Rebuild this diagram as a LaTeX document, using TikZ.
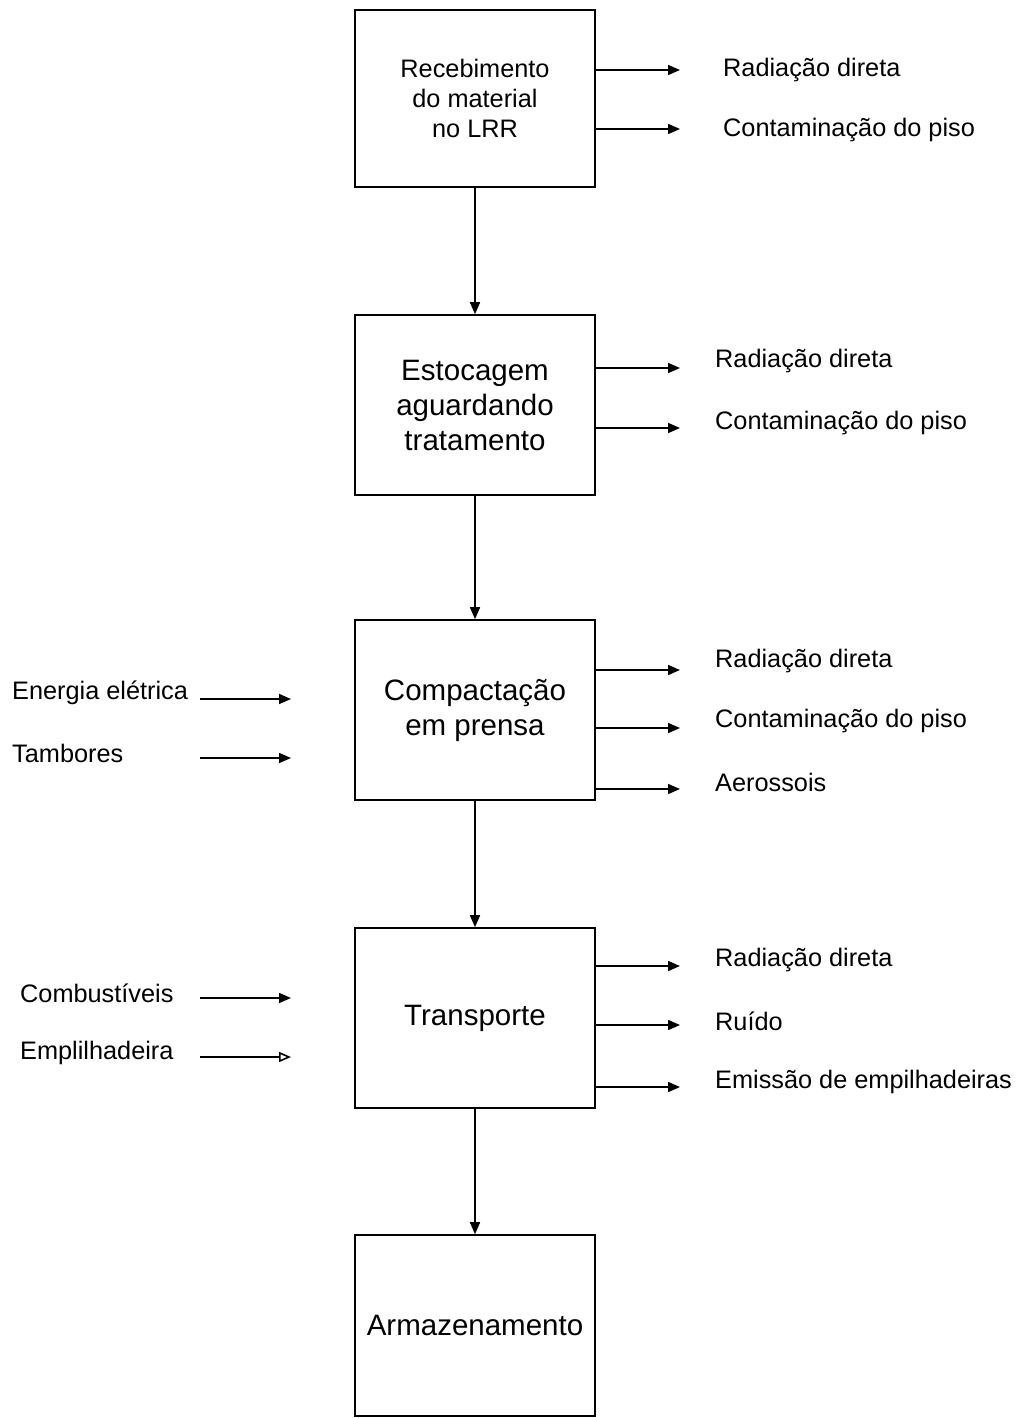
\documentclass[tikz,border=0pt]{standalone}
\usepackage{fontspec}
\setmainfont{Liberation Sans}
\usetikzlibrary{arrows.meta}
\tikzset{
  box/.style={draw, line width=1.6pt, minimum width=240pt, minimum height=#1, inner sep=0pt, align=center},
  small/.style={font=\fontsize{25.3}{30}\selectfont},
  big/.style={font=\fontsize{29.5}{35}\selectfont},
  lbl/.style={small, anchor=west, inner sep=0pt, yshift=-3pt},
  arr/.style={line width=1.6pt, -{Triangle[length=12pt,width=10pt]}},
  oarr/.style={line width=1.6pt, -{Triangle[open,length=12pt,width=10pt]}},
}
\begin{document}
\begin{tikzpicture}[x=1pt,y=-1pt]
\useasboundingbox (0,0) rectangle (1032,1418);
% boxes
\node[box=177pt, small] (b1) at (475,98.5) {Recebimento\\do material\\no LRR};
\node[box=180pt, big] (b2) at (475,405) {Estocagem\\aguardando\\tratamento};
\node[box=180pt, big] (b3) at (475,710) {Compactação\\em prensa};
\node[box=180pt, big] (b4) at (475,1018) {Transporte};
\node[box=181pt, big] (b5) at (475,1325.5) {Armazenamento};
% vertical flow
\draw[arr] (b1) -- (b2);
\draw[arr] (b2) -- (b3);
\draw[arr] (b3) -- (b4);
\draw[arr] (b4) -- (b5);
% outputs box 1
\node[lbl] (o11) at (723,67) {Radiação direta};
\node[lbl] (o12) at (723,127) {Contaminação do piso};
\coordinate (e11) at (680,70);
\coordinate (e12) at (680,129);
\draw[arr] (b1.east |- e11) -- (e11);
\draw[arr] (b1.east |- e12) -- (e12);
% outputs box 2
\node[lbl] (o21) at (715,358) {Radiação direta};
\node[lbl] (o22) at (715,420) {Contaminação do piso};
\coordinate (e21) at (680,368);
\coordinate (e22) at (680,428);
\draw[arr] (b2.east |- e21) -- (e21);
\draw[arr] (b2.east |- e22) -- (e22);
% outputs box 3
\node[lbl] (o31) at (715,658) {Radiação direta};
\node[lbl] (o32) at (715,718) {Contaminação do piso};
\node[lbl] (o33) at (715,779) {Aerossois};
\coordinate (e31) at (680,670);
\coordinate (e32) at (680,728);
\coordinate (e33) at (680,789);
\draw[arr] (b3.east |- e31) -- (e31);
\draw[arr] (b3.east |- e32) -- (e32);
\draw[arr] (b3.east |- e33) -- (e33);
% outputs box 4
\node[lbl] (o41) at (715,957) {Radiação direta};
\node[lbl] (o42) at (715,1018) {Ruído};
\node[lbl] (o43) at (715,1079) {Emissão de empilhadeiras};
\coordinate (e41) at (680,966);
\coordinate (e42) at (680,1025);
\coordinate (e43) at (680,1087);
\draw[arr] (b4.east |- e41) -- (e41);
\draw[arr] (b4.east |- e42) -- (e42);
\draw[arr] (b4.east |- e43) -- (e43);
% inputs box 3
\node[lbl] (i31) at (12,690) {Energia elétrica};
\node[lbl] (i32) at (12,750) {Tambores};
\coordinate (s31) at (200,699);
\coordinate (t31) at (291,699);
\coordinate (s32) at (200,758);
\coordinate (t32) at (291,758);
\draw[arr] (s31) -- (t31);
\draw[arr] (s32) -- (t32);
% inputs box 4
\node[lbl] (i41) at (20,990) {Combustíveis};
\node[lbl] (i42) at (20,1050) {Emplilhadeira};
\coordinate (s41) at (200,998);
\coordinate (t41) at (291,998);
\coordinate (s42) at (200,1057);
\coordinate (t42) at (291,1057);
\draw[arr] (s41) -- (t41);
\draw[oarr] (s42) -- (t42);
\end{tikzpicture}
\end{document}
